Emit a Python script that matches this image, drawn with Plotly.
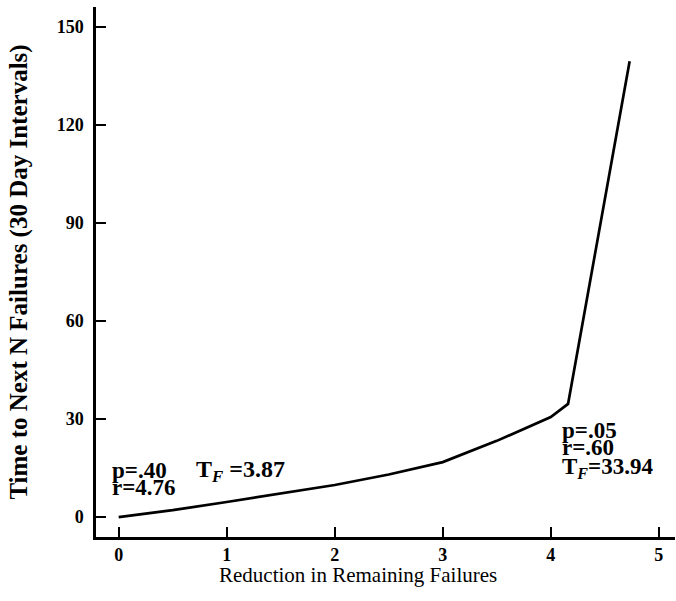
import plotly.graph_objects as go

# Data
reduction = [0, 0.5, 1, 1.5, 2, 2.5, 3, 3.5, 4, 4.16, 4.73]
time_next = [0, 2.1, 4.6, 7.3, 9.8, 13.0, 16.8, 23.3, 30.6, 34.6, 139.4]

x_ticks = [0, 1, 2, 3, 4, 5]
y_ticks = [0, 30, 60, 90, 120, 150]

serif = "Liberation Serif"

fig = go.Figure()
fig.add_trace(go.Scatter(
    x=reduction, y=time_next, mode="lines",
    line=dict(color="black", width=2.7), showlegend=False,
    hoverinfo="skip"))

def add_text(x, y, txt, size=23):
    fig.add_annotation(x=x, y=y, xref="x", yref="y", text=txt,
                       showarrow=False, xanchor="left", yanchor="middle",
                       font=dict(family=serif, size=size, color="black", weight="bold"),
                       borderpad=0)

add_text(-0.07, 14.2, "p=.40")
add_text(0.71, 14.2, "T<sub><i>F</i></sub> =3.87", size=24)
add_text(-0.07, 9.0, "r=4.76")
add_text(4.09, 26.4, "p=.05")
add_text(4.09, 21.2, "r=.60")
add_text(4.09, 15.0, "T<sub><i>F</i></sub>=33.94")

# x-axis title (placed left of centre as in the reference)
fig.add_annotation(x=0.4525, y=-0.071, xref="paper", yref="paper",
                   text="Reduction in Remaining Failures", showarrow=False,
                   xanchor="center", yanchor="middle",
                   font=dict(family=serif, size=21, color="black"))

fig.update_layout(
    width=676, height=601,
    margin=dict(l=96, r=1, t=7, b=64),
    paper_bgcolor="white", plot_bgcolor="white",
    font=dict(family=serif, color="black"),
    xaxis=dict(
        range=[-0.21, 5.15], tickvals=x_ticks, ticktext=[str(v) for v in x_ticks],
        ticks="inside", ticklen=10, tickwidth=2, tickcolor="black",
        showline=True, linecolor="black", linewidth=2.5,
        showgrid=False, zeroline=False, ticklabelstandoff=0, automargin=False,
        tickfont=dict(family=serif, size=18, weight="bold"),
    ),
    yaxis=dict(
        range=[-6.1, 156], tickvals=y_ticks, ticktext=[str(v) for v in y_ticks],
        ticks="inside", ticklen=10, tickwidth=2, tickcolor="black",
        showline=True, linecolor="black", linewidth=2.5,
        showgrid=False, zeroline=False, ticklabelstandoff=6, automargin=False,
        tickfont=dict(family=serif, size=18, weight="bold"),
        title=dict(text="Time to Next N Failures (30 Day Intervals)",
                   font=dict(family=serif, size=25, weight="bold"), standoff=22),
    ),
)

fig.write_html("out.html", config={"displayModeBar": False},
               post_script="document.body.style.margin='0';")
